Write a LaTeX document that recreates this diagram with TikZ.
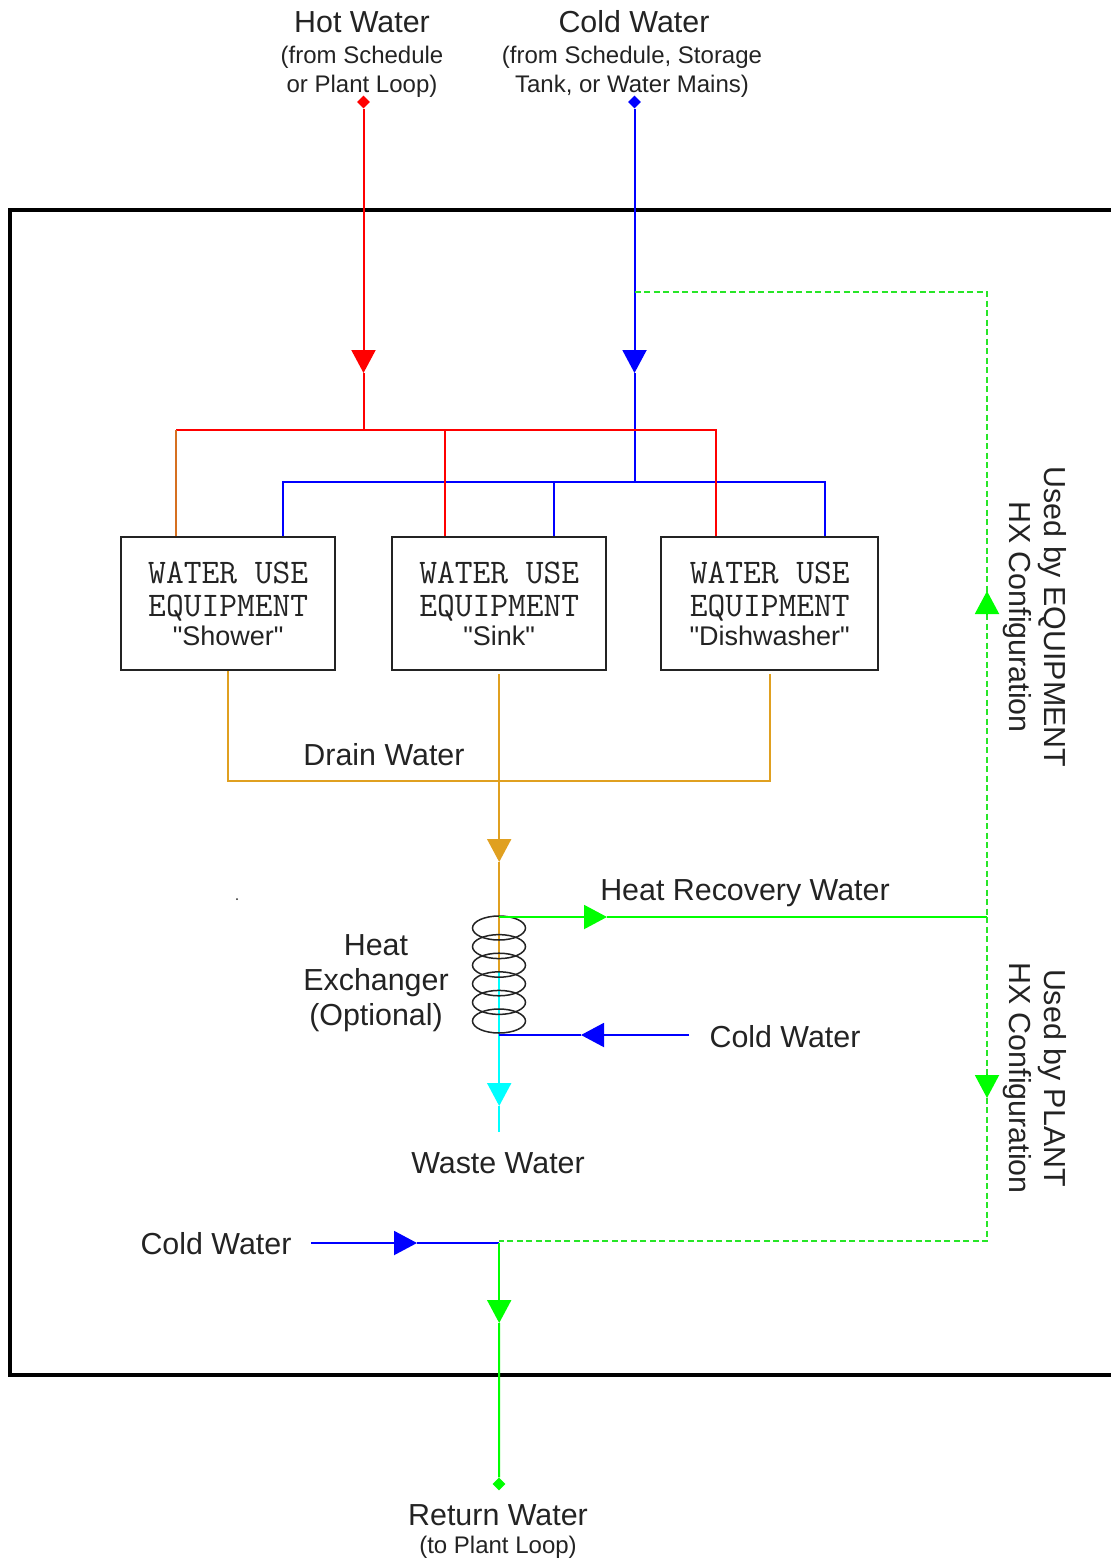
\documentclass[tikz,border=0pt]{standalone}
\usepackage{fontspec}
\setmainfont{Liberation Sans}
\newfontfamily\namefont{Liberation Sans}
\usetikzlibrary{arrows.meta,shapes.geometric}

\definecolor{hotred}{RGB}{255,0,0}
\definecolor{coldblue}{RGB}{0,0,255}
\definecolor{drainorange}{RGB}{224,160,32}
\definecolor{mixorange}{RGB}{214,112,32}
\definecolor{recgreen}{RGB}{0,255,0}
\definecolor{dashgreen}{RGB}{40,230,40}
\definecolor{wastecyan}{RGB}{0,255,255}
\definecolor{inkgray}{RGB}{35,35,35}

\newcommand{\equipfont}{\ttfamily\fontsize{34.5}{33}\selectfont}
\newcommand{\equipname}{\namefont\fontsize{27}{30}\selectfont}
\newcommand{\equiptext}[1]{\equipfont WATER USE\\[10pt]\equipfont EQUIPMENT\\[4pt]\equipname"#1"}

\begin{document}
\begin{tikzpicture}[x=1pt,y=-1pt,
    tip/.style={-{Triangle[width=24pt,length=23pt]}},
    pipe/.style={line width=2pt},
    hot/.style={pipe,draw=hotred},
    cold/.style={pipe,draw=coldblue},
    drain/.style={pipe,draw=drainorange},
    rec/.style={pipe,draw=recgreen},
    recdash/.style={line width=1.6pt,draw=dashgreen,dash pattern=on 6pt off 3.5pt},
    waste/.style={pipe,draw=wastecyan},
    label/.style={inner sep=0pt,align=center,text=inkgray,font=\fontsize{30.4}{35}\selectfont},
    sublabel/.style={inner sep=0pt,align=center,text=inkgray,font=\fontsize{24}{29}\selectfont},
    endpoint/.style={diamond,inner sep=0pt,minimum size=13pt},
    equip/.style={draw=inkgray,line width=2.4pt,inner sep=0pt,align=center,text=inkgray,anchor=north west},
    coil/.style={ellipse,draw=inkgray,line width=1.5pt,inner sep=0pt,minimum width=53pt,minimum height=24pt}]
\useasboundingbox (0,0) rectangle (1110,1562);

\coordinate (frameTR) at (1112,210);
\coordinate (frameTL) at (10,210);
\coordinate (frameBL) at (10,1375);
\coordinate (frameBR) at (1112,1375);
\draw[line width=3.6pt,draw=black] (frameTR) -- (frameTL) -- (frameBL) -- (frameBR);

% inlets
\node[label] (hotname) at (362,22) {Hot Water};
\node[sublabel] (hotfrom) at (362,72) {(from Schedule\\or Plant Loop)};
\node[label] (coldname) at (634,22) {Cold Water};
\node[sublabel] (coldfrom) at (632,72) {(from Schedule, Storage\\Tank, or Water Mains)};
\node[endpoint,fill=hotred] (hotin) at (363.5,102) {};
\node[endpoint,fill=coldblue] (coldin) at (634.5,102) {};

% equipment
\node[equip,minimum width=214pt,minimum height=133pt] (shower) at (120,536) {\equiptext{Shower}};
\node[equip,minimum width=214pt,minimum height=133pt] (sink) at (391,536) {\equiptext{Sink}};
\node[equip,minimum width=217pt,minimum height=133pt] (dish) at (660,536) {\equiptext{Dishwasher}};

% supply
\coordinate (hotarrow) at (363.5,373);
\coordinate (hotjoin) at (363.5,430);
\coordinate (hotA) at (176,430);
\coordinate (hotB) at (444.5,430);
\coordinate (hotC) at (716,430);
\coordinate (coldarrow) at (634.5,373);
\coordinate (coldjoin) at (634.5,482);
\coordinate (coldA) at (282.5,482);
\coordinate (coldB) at (553.5,482);
\coordinate (coldC) at (825,482);
\coordinate (recsplit) at (634.5,292);
\draw[cold,tip] (coldin) -- (coldarrow);
\draw[cold] (coldarrow) -- (coldjoin);
\draw[cold] (coldA |- shower.north) -- (coldA) -- (coldC) -- (coldC |- dish.north);
\draw[cold] (coldB) -- (coldB |- sink.north);
\draw[hot,tip] (hotin) -- (hotarrow);
\draw[hot] (hotarrow) -- (hotjoin);
\draw[hot] (hotA) -- (hotC) -- (hotC |- dish.north);
\draw[hot] (hotB) -- (hotB |- sink.north);
\draw[pipe,draw=mixorange] (hotA) -- (hotA |- shower.north);

% drain
\coordinate (drainjoin) at (499.2,781);
\coordinate (drainarrow) at (499.2,862);
\coordinate (coiltop) at (499.2,917);
\coordinate (coilmid) at (499.2,972);
\coordinate (coilbot) at (499.2,1035);
\coordinate (wastearrow) at (499.2,1106);
\coordinate (wasteend) at (499.2,1132);
\node[label] (drainname) at (384,755) {Drain Water};
\draw[drain] (shower.south) -- (shower.south |- drainjoin) -- (dish.south |- drainjoin) -- ([yshift=-3pt]dish.south);
\draw[drain,tip] ([yshift=-3pt]sink.south) -- (drainarrow);
\draw[drain] (drainarrow) -- (coilmid);
\draw[waste,tip] (coilmid) -- (wastearrow);
\draw[waste] (wastearrow) -- (wasteend);

% heat exchanger
\foreach \i in {0,...,5}
    \node[coil] (coil\i) at (499,{928+18.6*\i}) {};
\node[label] (hxname) at (376,983) {Heat\\Exchanger\\(Optional)};
\node[label] (wastename) at (498,1163) {Waste Water};

% recovery
\coordinate (recarrow) at (607,917);
\coordinate (recmain) at (987,917);
\coordinate (recup) at (987,591);
\coordinate (recdown) at (987,1098);
\coordinate (reccorner) at (987,292);
\coordinate (rettee) at (499.2,1241);
\coordinate (retcorner) at (987,1241);
\coordinate (retarrow) at (499.2,1323);
\draw[rec,tip] (coiltop) -- (recarrow);
\draw[rec] (recarrow) -- (recmain);
\draw[recdash] (recsplit) -- (reccorner) -- (recmain);
\draw[recdash] (recmain) -- (retcorner) -- (rettee);
\draw[rec,tip] (987,615) -- (recup);
\draw[rec,tip] (987,1074) -- (recdown);
\node[label] (recname) at (745,893) {Heat Recovery Water};
\node[label,rotate=-90] (useequip) at (1035,617) {Used by EQUIPMENT\\HX Configuration};
\node[label,rotate=-90] (useplant) at (1035,1078) {Used by PLANT\\HX Configuration};

% cold water to the exchanger and to the return
\coordinate (hxcoldstart) at (689,1035);
\coordinate (hxcoldarrow) at (581,1035);
\coordinate (mixstart) at (311,1243);
\coordinate (mixarrow) at (417,1243);
\coordinate (mixend) at (499.2,1243);
\node[label] (hxcold) at (785,1037) {Cold Water};
\node[label] (mixcold) at (216,1244) {Cold Water};
\draw[cold,tip] (hxcoldstart) -- (hxcoldarrow);
\draw[cold] (hxcoldarrow) -- (coilbot);
\draw[cold,tip] (mixstart) -- (mixarrow);
\draw[cold] (mixarrow) -- (mixend);

% return
\node[endpoint,fill=recgreen] (retout) at (499,1484) {};
\draw[rec,tip] (mixend) -- (retarrow);
\draw[rec] (retarrow) -- (retout);
\node[label] (retname) at (498,1515) {Return Water};
\node[sublabel] (retto) at (498,1547) {(to Plant Loop)};

\node[circle,fill=inkgray,inner sep=0pt,minimum size=2pt] (speck) at (237,899) {};
\end{tikzpicture}
\end{document}
